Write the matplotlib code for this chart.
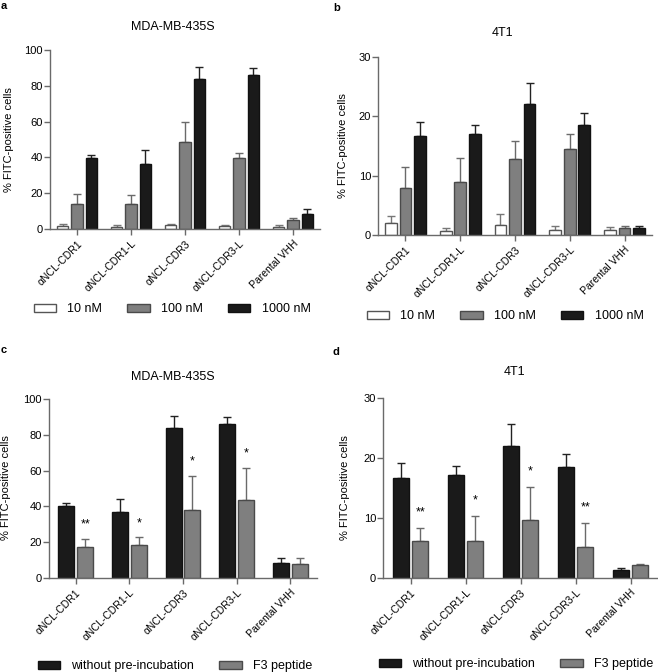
import matplotlib
matplotlib.use('Agg')
import matplotlib.pyplot as plt
import numpy as np
from matplotlib.patches import Patch

plt.rcParams['font.family'] = ['Liberation Sans', 'DejaVu Sans']

groups = ['αNCL-CDR1', 'αNCL-CDR1-L', 'αNCL-CDR3', 'αNCL-CDR3-L', 'Parental VHH']

# panel a - MDA-MB-435S, dose
a_10 = [1.7, 1.1, 2.2, 1.7, 1.3]
a_10_err = [1.3, 1.1, 0.6, 0.5, 0.7]
a_100 = [14.0, 14.0, 48.5, 39.9, 4.9]
a_100_err = [5.8, 5.0, 11.4, 2.5, 1.1]
a_1000 = [39.9, 36.3, 84.0, 86.2, 8.4]
a_1000_err = [1.7, 8.0, 6.3, 3.8, 2.9]

# panel b - 4T1, dose
b_10 = [2.0, 0.67, 1.7, 0.84, 0.78]
b_10_err = [1.2, 0.43, 1.8, 0.66, 0.52]
b_100 = [7.9, 8.9, 12.8, 14.5, 1.1]
b_100_err = [3.5, 4.1, 3.0, 2.6, 0.5]
b_1000 = [16.7, 17.1, 22.1, 18.5, 1.1]
b_1000_err = [2.4, 1.5, 3.5, 2.1, 0.4]

# panel c - MDA-MB-435S, F3 competition
c_without = [40.2, 36.8, 84.0, 86.2, 8.4]
c_without_err = [1.5, 7.5, 6.3, 3.7, 3.0]
c_f3 = [17.4, 18.5, 38.2, 43.8, 8.0]
c_f3_err = [4.6, 4.3, 18.8, 17.8, 3.4]
c_stars = ['**', '*', '*', '*', '']

# panel d - 4T1, F3 competition
d_without = [16.7, 17.1, 22.0, 18.5, 1.3]
d_without_err = [2.4, 1.5, 3.6, 2.1, 0.3]
d_f3 = [6.1, 6.2, 9.6, 5.1, 2.1]
d_f3_err = [2.3, 4.2, 5.6, 4.1, 0.3]
d_stars = ['**', '*', '*', '**', '']

W = 658 / 100
H = 672 / 100
fig = plt.figure(figsize=(W, H), dpi=100)

def px(x, y):
    return x / 658, 1 - y / 672

WHITE = '#ffffff'
GRAY = '#7f7f7f'
BLACK = '#1a1a1a'
SPINE = '#6a6a6a'


def style_axes(ax, ymax, step):
    ax.set_xlim(-0.5, 4.5)
    ax.set_ylim(0, ymax)
    ax.set_yticks(np.arange(0, ymax + 1, step))
    ax.set_xticks(np.arange(len(groups)))
    ax.set_xticklabels(groups, rotation=45, ha='right', rotation_mode='anchor', fontsize=7.5)
    ax.tick_params(axis='y', labelsize=8, length=4, color=SPINE, width=1, pad=1)
    ax.tick_params(axis='x', length=4, color=SPINE, width=1, pad=3)
    for s in ['top', 'right']:
        ax.spines[s].set_visible(False)
    for s in ['left', 'bottom']:
        ax.spines[s].set_color(SPINE)
        ax.spines[s].set_linewidth(1.0)


def draw_bars(ax, series, width, offsets):
    x = np.arange(len(groups))
    for (vals, errs, fc, ec, errc), off in zip(series, offsets):
        ax.bar(x + off, vals, width, color=fc, edgecolor=ec, linewidth=1.0, zorder=2)
        ax.errorbar(x + off, vals, yerr=[np.zeros(len(vals)), errs], fmt='none',
                    ecolor=errc, elinewidth=1.0, capsize=3, capthick=1.0, zorder=1)


def panel(rect, label, label_xy, title, title_xy, ylab_xy, ymax, step, series, width, offsets):
    ax = fig.add_axes(rect)
    draw_bars(ax, series, width, offsets)
    style_axes(ax, ymax, step)
    fig.text(*px(*label_xy), label, fontsize=8, fontweight='bold', ha='left', va='top')
    fig.text(*px(*title_xy), title, fontsize=9, ha='center', va='center')
    fig.text(*px(*ylab_xy), '% FITC-positive cells', fontsize=8, rotation=90, ha='center', va='center')
    return ax


def rect_from_px(l, t, r, b):
    x0, y1 = px(l, t)
    x1, y0 = px(r, b)
    return [x0, y0, x1 - x0, y1 - y0]


dose_off = [-0.265, 0.0, 0.265]
dose_w = 0.215
comp_off = [-0.176, 0.176]
comp_w = 0.3

ax_a = panel(rect_from_px(50, 50, 320, 229), 'a', (1, 1), 'MDA-MB-435S', (173, 27), (9, 140),
             100, 20,
             [(a_10, a_10_err, WHITE, '#555555', '#777777'),
              (a_100, a_100_err, GRAY, '#4a4a4a', '#6a6a6a'),
              (a_1000, a_1000_err, BLACK, '#111111', '#222222')], dose_w, dose_off)

ax_b = panel(rect_from_px(378, 57, 652, 235), 'b', (333, 3), '4T1', (503, 33), (343, 146),
             30, 10,
             [(b_10, b_10_err, WHITE, '#555555', '#777777'),
              (b_100, b_100_err, GRAY, '#4a4a4a', '#6a6a6a'),
              (b_1000, b_1000_err, BLACK, '#111111', '#222222')], dose_w, dose_off)

ax_c = panel(rect_from_px(49, 399, 317, 578), 'c', (1, 345), 'MDA-MB-435S', (173, 377), (6, 488),
             100, 20,
             [(c_without, c_without_err, BLACK, '#111111', '#222222'),
              (c_f3, c_f3_err, GRAY, '#4a4a4a', '#6a6a6a')], comp_w, comp_off)

ax_d = panel(rect_from_px(383, 398, 658, 578), 'd', (333, 347), '4T1', (515, 372), (345, 488),
             30, 10,
             [(d_without, d_without_err, BLACK, '#111111', '#222222'),
              (d_f3, d_f3_err, GRAY, '#4a4a4a', '#6a6a6a')], comp_w, comp_off)

# significance stars
for ax, vals, errs, stars, gap in [(ax_c, c_f3, c_f3_err, c_stars, 4.5),
                                   (ax_d, d_f3, d_f3_err, d_stars, 1.5)]:
    for i, (v, e, s) in enumerate(zip(vals, errs, stars)):
        if s:
            ax.text(i + comp_off[1], v + e + gap, s, ha='center', va='bottom', fontsize=9)

# legends
leg_kw = dict(loc='center', ncol=3, frameon=False, fontsize=9, handlelength=1.8,
              handleheight=0.6, handletextpad=0.9, columnspacing=2.0, borderaxespad=0)
dose_handles = [Patch(facecolor=WHITE, edgecolor='#555555', label='10 nM'),
                Patch(facecolor=GRAY, edgecolor='#4a4a4a', label='100 nM'),
                Patch(facecolor=BLACK, edgecolor='#111111', label='1000 nM')]
comp_handles = [Patch(facecolor=BLACK, edgecolor='#111111', label='without pre-incubation'),
                Patch(facecolor=GRAY, edgecolor='#4a4a4a', label='F3 peptide')]

fig.legend(handles=dose_handles, bbox_to_anchor=px(172, 309), **leg_kw)
fig.legend(handles=dose_handles, bbox_to_anchor=px(505, 316), **leg_kw)
fig.legend(handles=comp_handles, bbox_to_anchor=px(175, 666), **leg_kw)
fig.legend(handles=comp_handles, bbox_to_anchor=px(516, 664), **leg_kw)

fig.savefig('out.png', dpi=100)
